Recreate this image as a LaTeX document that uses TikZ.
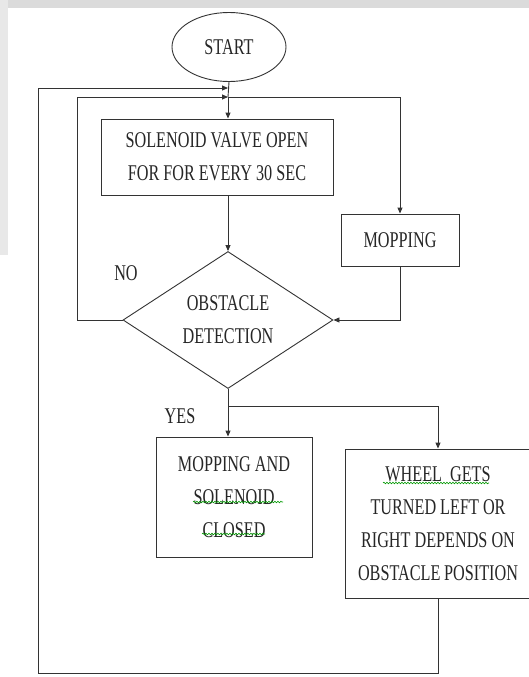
\documentclass[tikz,border=0pt]{standalone}
\usepackage{fontspec}
\setmainfont[FakeStretch=0.72]{Liberation Serif}
\usetikzlibrary{shapes.geometric,arrows.meta,decorations.pathmorphing}

\tikzset{
  flowline/.style={line width=0.9pt, draw=black!80},
  flowarrow/.style={flowline, -{Triangle[length=6pt,width=5pt]}},
  stepbox/.style={draw=black!80, line width=0.9pt, rectangle, align=center, inner sep=0pt},
  spellmark/.style={draw=green!60!black, line width=0.6pt, decorate,
    decoration={snake, amplitude=0.8pt, segment length=3pt}},
}

\begin{document}
\begin{tikzpicture}[x=1pt, y=-1pt, font=\fontsize{22.5}{33}\selectfont, text=black!85]
        % Page with grey scan edges
        \useasboundingbox (0,0) rectangle (529,677);
        \fill[white] (0,0) rectangle (529,677);
        \fill[black!14] (0,0) rectangle (529,8);
        \fill[black!9] (0,0) rectangle (8,255);
        \clip (0,0) rectangle (529,677);

        % Flowchart blocks
        \node[ellipse, draw=black!80, line width=0.9pt, minimum width=114pt, minimum height=69pt, inner sep=0pt] (start) at (229,47) {START};
        \node[stepbox, minimum width=232pt, minimum height=76pt] (valve) at (217,157) {SOLENOID VALVE OPEN\\FOR FOR EVERY 30 SEC};
        \node[stepbox, minimum width=118pt, minimum height=52pt] (mopping) at (400,240) {MOPPING};
        \node[diamond, draw=black!80, line width=0.9pt, aspect=1.53, inner sep=0pt, minimum width=210pt, minimum height=137pt, align=center] (obstacle) at (228,320) {OBSTACLE\\DETECTION};
        \node[stepbox, minimum width=156pt, minimum height=120pt] (closed) at (234,497) {MOPPING AND\\SOLENOID\\CLOSED};
        \node[stepbox, minimum width=186pt, minimum height=149pt] (wheel) at (438,523.5) {WHEEL\ \ GETS\\TURNED LEFT OR\\RIGHT DEPENDS ON\\OBSTACLE\,POSITION};

        % Branch labels
        \node (no) at (126,273) {NO};
        \node (yes) at (180,416) {YES};

        % Junction points of the loops
        \coordinate (outerjoin) at (228,88);
        \coordinate (innerjoin) at (228,97);
        \coordinate (innercorner) at (77,97);
        \coordinate (outercorner) at (38,88);
        \coordinate (bottomleft) at (38,673);
        \coordinate (split) at (228,406);

        % Connectors
        \draw[flowline] (start.south) -- (innerjoin);
        \draw[flowarrow] (innerjoin) -- (innerjoin |- valve.north);
        \draw[flowarrow] (innerjoin) -| (mopping.north);
        \draw[flowarrow] (valve.south -| innerjoin) -- (obstacle.north);
        \draw[flowarrow] (mopping.south) |- (obstacle.east);
        \draw[flowarrow] (obstacle.west) -| (innercorner) -- (innerjoin); % NO loop
        \draw[flowline] (obstacle.south) -- (split);
        \draw[flowarrow] (split) -- (split |- closed.north);
        \draw[flowarrow] (split) -| (wheel.north);
        \draw[flowarrow] (wheel.south) |- (bottomleft) -- (outercorner) -- (outerjoin);

        % Spell-check marks under some words
        \draw[spellmark] (193,502) -- (283,502);
        \draw[spellmark] (202,534) -- (265,534);
        \draw[spellmark] (383,483) -- (489,483);
    \end{tikzpicture}
\end{document}
